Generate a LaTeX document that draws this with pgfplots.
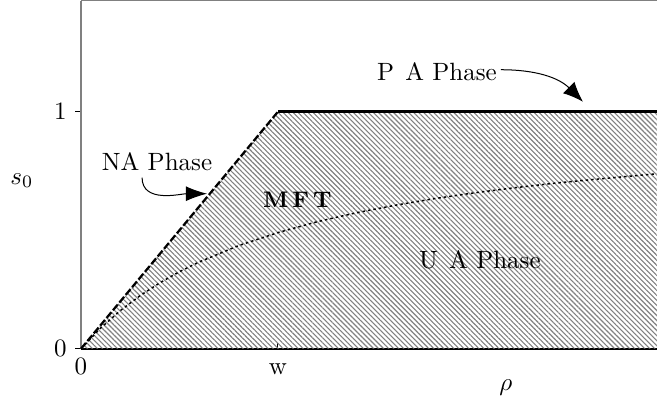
\documentclass[border=0pt]{standalone}
\usepackage{pgfplots}
\pgfplotsset{compat=1.18}
\usetikzlibrary{patterns.meta, arrows.meta}

\begin{document}
\begin{tikzpicture}
\begin{axis}[
  scale only axis, width=230.4pt, height=139.2pt,
  xmin=0, xmax=2.924, ymin=0, ymax=1.468,
  axis x line=bottom, axis y line=left,
  x axis line style={-, black, line width=0.8pt},
  y axis line style={-, gray, line width=0.6pt},
  xtick={0,1}, xticklabels={0,{\vphantom{0}w}},
  ytick={0,1},
  xtick align=inside, ytick align=outside,
  major tick length=2.2pt,
  tick style={black, line width=0.4pt},
  clip=false,
]
% hatched region below the phase boundary
\addplot[draw=none, pattern={Lines[angle=-45, distance=1.42pt, line width=0.45pt]}, pattern color=gray]
  coordinates {(0,0) (1,1) (2.924,1) (2.924,0)} -- cycle;

% NA boundary
\addplot[black, line width=0.9pt, dash pattern=on 3pt off 1pt] coordinates {(0,0) (1,1)};
% PA boundary
\addplot[black, line width=1.2pt] coordinates {(1,1) (2.924,1)};
% mean-field transition curve
\addplot[black, line width=0.6pt, dash pattern=on 1pt off 1.2pt] coordinates {
  (0,0) (0.1,0.0877) (0.2,0.161) (0.3,0.224) (0.4,0.278) (0.5,0.325)
  (0.6,0.366) (0.8,0.435) (1.0,0.490) (1.2,0.536) (1.4,0.574) (1.6,0.606)
  (1.8,0.634) (2.0,0.658) (2.2,0.679) (2.4,0.698) (2.6,0.714) (2.8,0.729)
  (2.924,0.738)};

\draw[gray, line width=0.6pt] (rel axis cs:0,1) -- (rel axis cs:1,1);

\node[anchor=base] at (axis cs:1.807,1.131) {P\ \hspace{1.2pt}A Phase};
\draw[line width=0.4pt, -{Latex[length=8pt, width=6.5pt]}]
  (axis cs:2.132,1.177) to[out=0, in=135] (axis cs:2.548,1.042);

\node[anchor=base] at (axis cs:0.386,0.751) {NA Phase};
\draw[line width=0.4pt, -{Latex[length=8.5pt, width=6pt]}]
  (axis cs:0.310,0.722) to[out=-90, in=180] (axis cs:0.640,0.654);

\node[anchor=base, font=\fontsize{9}{10}\selectfont\bfseries] at (axis cs:1.099,0.595) {M\hspace{1.6pt}F\hspace{1.6pt}T};
\node[anchor=base] at (axis cs:2.025,0.338) {U\ \hspace{1.2pt}A Phase};

\node at (axis cs:-0.30,0.709) {$s_0$};
\node at (axis cs:2.157,-0.165) {$\rho$};

\coordinate (sw) at (rel axis cs:0,0);
\coordinate (ne) at (rel axis cs:1,1);
\end{axis}
\pgfresetboundingbox
\path (sw) ++(-32.4pt,-21.2pt) rectangle ([yshift=0.3pt]ne);
\end{tikzpicture}
\end{document}
